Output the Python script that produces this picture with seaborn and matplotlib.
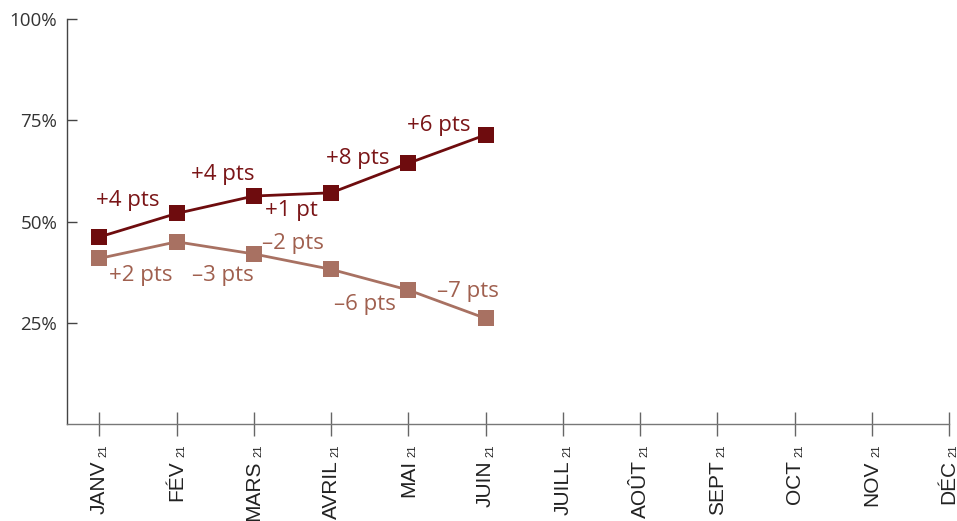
import pandas as pd
import matplotlib
matplotlib.use('Agg')
import matplotlib.pyplot as plt
import seaborn as sns

# data
months = ["JANV", "FÉV", "MARS", "AVRIL", "MAI", "JUIN",
          "JUILL", "AOÛT", "SEPT", "OCT", "NOV", "DÉC"]
year_tag = "21"
dark_vals = [46.2, 52.0, 56.3, 57.1, 64.4, 71.4]
light_vals = [40.9, 45.0, 42.0, 38.2, 33.1, 26.1]

dark_labels = ["+4 pts", "+4 pts", "+1 pt", "+8 pts", "+6 pts"]
dark_label_pos = [(0.37, 55.3), (1.6, 61.7), (2.49, 52.8), (3.35, 65.6), (4.4, 73.8)]
light_labels = ["+2 pts", "–3 pts", "–2 pts", "–6 pts", "–7 pts"]
light_label_pos = [(0.53, 36.8), (1.6, 36.8), (2.51, 44.6), (3.44, 29.6), (4.77, 32.7)]

dark_col = "#6E0C0E"
light_col = "#A87162"

df = pd.DataFrame({
    "mois": list(range(len(dark_vals))) * 2,
    "valeur": dark_vals + light_vals,
    "serie": ["dark"] * len(dark_vals) + ["light"] * len(light_vals),
})

sns.set_style("white")
plt.rcParams['font.family'] = ['Open Sans', 'DejaVu Sans']

fig = plt.figure(figsize=(9.57, 5.21), dpi=100)
ax = fig.add_axes([0.070, 0.186, 0.9216, 0.7775])

sns.lineplot(data=df, x="mois", y="valeur", hue="serie",
             palette={"dark": dark_col, "light": light_col},
             marker="s", markersize=12, markeredgewidth=0,
             linewidth=2, legend=False, ax=ax)

for txt, (x, y) in zip(dark_labels, dark_label_pos):
    ax.text(x, y, txt, color="#7A1517", fontsize=16, ha="center", va="center")
for txt, (x, y) in zip(light_labels, light_label_pos):
    ax.text(x, y, txt, color="#A0604F", fontsize=16, ha="center", va="center")

ax.set_xlim(-0.42, 11)
ax.set_ylim(0, 100)
ax.set_yticks([25, 50, 75, 100])
ax.set_yticklabels(["25%", "50%", "75%", "100%"], fontsize=13.5, color="#333333")
ax.set_xticks(range(len(months)))
ax.set_xticklabels(months, rotation=90, fontsize=15, color="#222222",
                   family=['Liberation Sans', 'DejaVu Sans'])
ax.set_xlabel("")
ax.set_ylabel("")

ax.tick_params(axis="y", left=True, direction="in", length=7, width=1,
               color="#444444", pad=7)
ax.tick_params(axis="x", bottom=True, direction="inout", length=17, width=1,
               color="#666666", pad=17.5)

for side in ["top", "right"]:
    ax.spines[side].set_visible(False)
ax.spines["left"].set_color("#444444")
ax.spines["bottom"].set_color("#777777")
ax.spines["left"].set_linewidth(1)
ax.spines["bottom"].set_linewidth(1)

# small year tag above each month label
for lab in ax.get_xticklabels():
    ax.annotate(year_tag, xy=(1, 1), xycoords=lab, xytext=(0, 2),
                textcoords="offset points", rotation=90, fontsize=8,
                ha="right", va="bottom", color="#222222",
                family=['Liberation Sans', 'DejaVu Sans'])

fig.savefig("out.png", dpi=100)
